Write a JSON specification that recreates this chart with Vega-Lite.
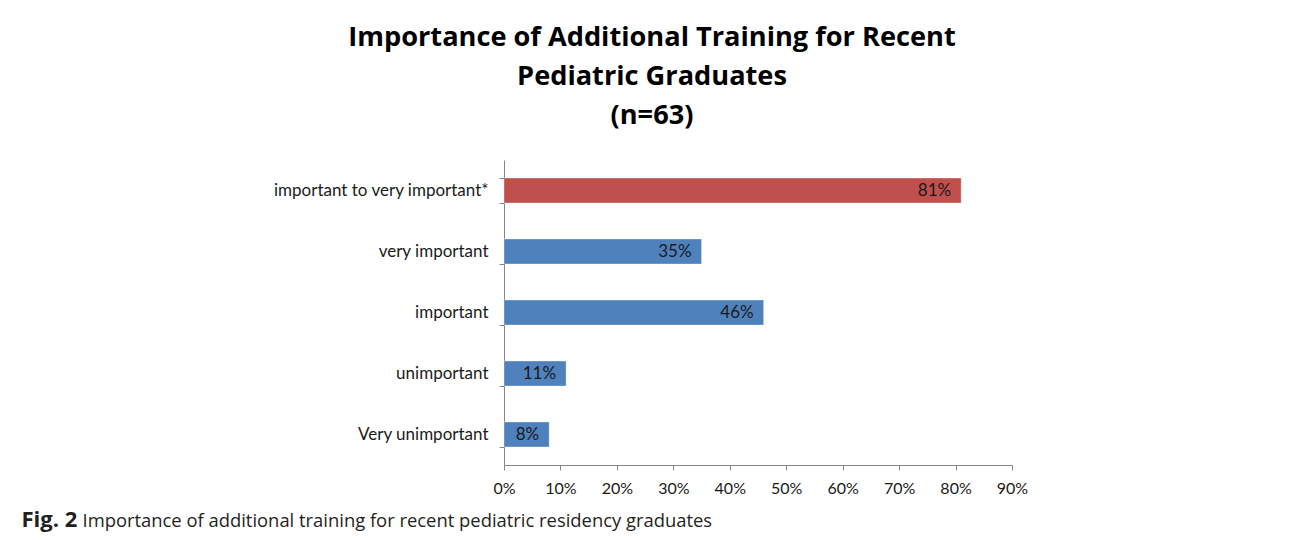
{
  "$schema": "https://vega.github.io/schema/vega-lite/v6.json",
  "width": 508,
  "height": 305,
  "autosize": {"type": "none"},
  "padding": {"left": 504, "top": 160, "right": 278, "bottom": 75},
  "background": "white",
  "title": {
    "text": ["Importance of Additional Training for Recent", "Pediatric Graduates", "(n=63)"],
    "font": "Open Sans",
    "fontSize": 27.2,
    "fontWeight": "bold",
    "color": "#000000",
    "lineHeight": 39,
    "anchor": "middle",
    "frame": "group",
    "dx": -106,
    "offset": 21
  },
  "data": {
    "values": [
      {"category": "important to very important*", "value": 0.81, "label": "81%", "type": "combined"},
      {"category": "very important", "value": 0.35, "label": "35%", "type": "single"},
      {"category": "important", "value": 0.46, "label": "46%", "type": "single"},
      {"category": "unimportant", "value": 0.11, "label": "11%", "type": "single"},
      {"category": "Very unimportant", "value": 0.08, "label": "8%", "type": "single"}
    ]
  },
  "encoding": {
    "y": {
      "field": "category",
      "type": "nominal",
      "sort": null,
      "scale": {"paddingInner": 0.6, "paddingOuter": 0.3},
      "axis": {
        "title": "Importance of additional training for recent pediatric residency graduates",
        "titleFont": "Open Sans",
        "titleFontSize": 18.4,
        "titleFontWeight": "normal",
        "titleColor": "#231f20",
        "titleAngle": 0,
        "titleAlign": "left",
        "titleBaseline": "alphabetic",
        "titleX": -422,
        "titleY": 366,
        "labelFont": "Lato",
        "labelFontSize": 17,
        "labelLimit": 400,
        "labelColor": "#1a1a1a",
        "labelPadding": 11,
        "tickSize": 5,
        "tickBand": "extent",
        "tickColor": "#868686",
        "domainColor": "#868686",
        "grid": false
      }
    },
    "x": {
      "field": "value",
      "type": "quantitative",
      "scale": {"domain": [0, 0.9], "nice": false},
      "axis": {
        "title": "Fig. 2",
        "titleFont": "Open Sans",
        "titleFontSize": 22,
        "titleFontWeight": "bold",
        "titleColor": "#231f20",
        "titleAngle": 0,
        "titleAlign": "left",
        "titleBaseline": "alphabetic",
        "titleX": -483,
        "titleY": 61,
        "values": [0, 0.1, 0.2, 0.3, 0.4, 0.5, 0.6, 0.7, 0.8, 0.9],
        "format": ".0%",
        "labelFont": "Lato",
        "labelFontSize": 16,
        "labelColor": "#1a1a1a",
        "labelPadding": 10,
        "labelFlush": false,
        "tickSize": 5,
        "tickColor": "#868686",
        "domainColor": "#868686",
        "grid": false
      }
    }
  },
  "layer": [
    {
      "mark": {"type": "bar", "size": 25, "strokeWidth": 1, "strokeOpacity": 0.35, "stroke": "#ffffff"},
      "encoding": {
        "color": {
          "field": "type",
          "type": "nominal",
          "scale": {"domain": ["combined", "single"], "range": ["#c0504d", "#4f81bd"]},
          "legend": null
        }
      }
    },
    {
      "mark": {"type": "text", "align": "right", "baseline": "middle", "dx": -10, "font": "Lato", "fontSize": 17, "color": "#1a1a1a"},
      "encoding": {"text": {"field": "label"}}
    }
  ],
  "config": {"view": {"stroke": null}}
}
